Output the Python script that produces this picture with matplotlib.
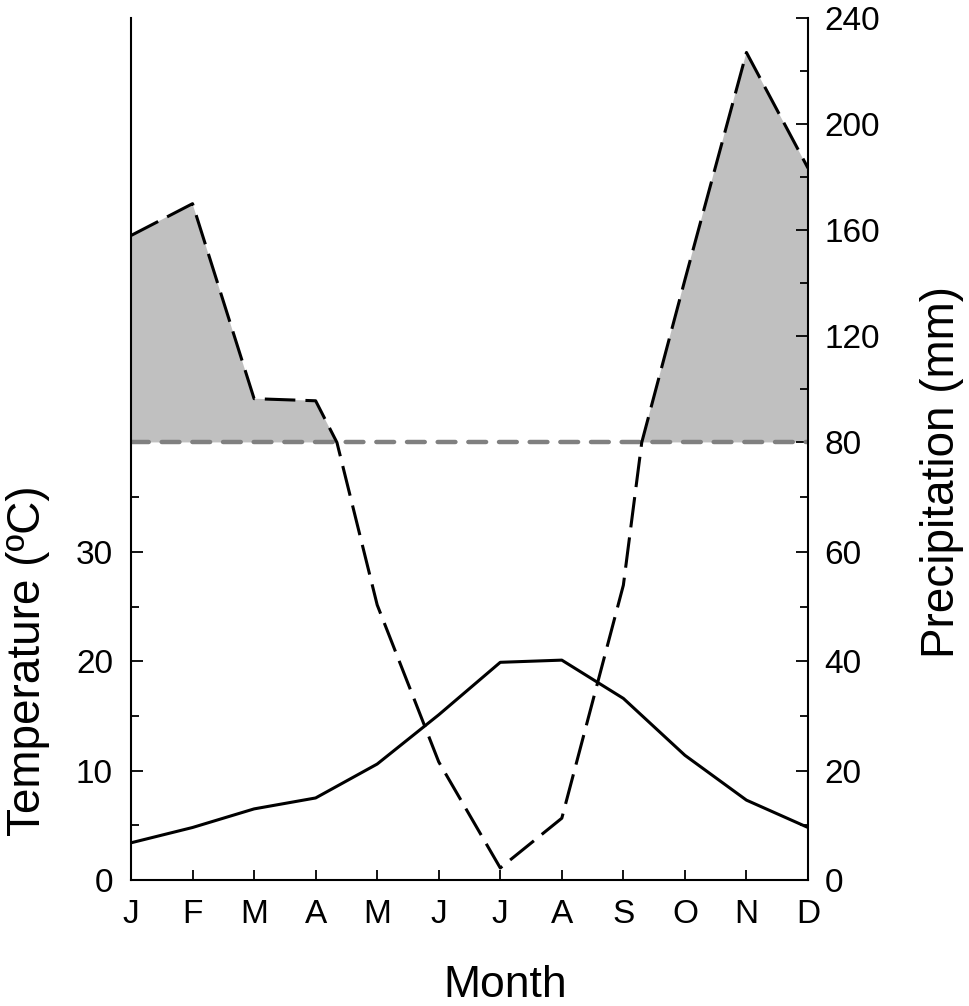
import numpy as np
import matplotlib
matplotlib.use("Agg")
import matplotlib.pyplot as plt

plt.rcParams['font.family'] = ['Liberation Sans', 'DejaVu Sans']

# data
months = ['J', 'F', 'M', 'A', 'M', 'J', 'J', 'A', 'S', 'O', 'N', 'D']
temperature = [3.4, 4.8, 6.5, 7.5, 10.6, 15.1, 19.9, 20.1, 16.6, 11.4, 7.3, 4.8]
precipitation = [158, 170, 96.5, 95.7, 50.3, 21.6, 2.2, 11.3, 53.9, 141.3, 227, 183.4]
threshold = 80
upper_factor = 0.485   # compression of the scale above 80 mm

prec_major = [0, 20, 40, 60, 80, 120, 160, 200, 240]
prec_minor = [10, 30, 50, 70, 100, 140, 180, 220]
temp_major = [0, 10, 20, 30]
temp_minor = [5, 15, 25, 35]


def fwd(p):
    p = np.asarray(p, dtype=float)
    return np.where(p <= threshold, p, threshold + (p - threshold) * upper_factor)


def inv(y):
    y = np.asarray(y, dtype=float)
    return np.where(y <= threshold, y, threshold + (y - threshold) / upper_factor)


# add the points where the precipitation line crosses the threshold,
# so the line bends there like in the original
x = np.arange(len(months), dtype=float)
p = np.array(precipitation, dtype=float)
xs, ps = [x[0]], [p[0]]
for i in range(1, len(p)):
    a, b = p[i - 1], p[i]
    if (a - threshold) * (b - threshold) < 0:
        f = (threshold - a) / (b - a)
        xs.append(x[i - 1] + f)
        ps.append(threshold)
    xs.append(x[i])
    ps.append(b)
xs = np.array(xs)
ps = np.array(ps)

fig = plt.figure(figsize=(9.70, 10.06), dpi=100)
ax = fig.add_axes([131 / 970, 1 - 880 / 1006, 677 / 970, 862 / 1006])
ax2 = ax.twinx()

ax2.set_yscale('function', functions=(fwd, inv))
ax2.set_ylim(0, 240)
# 10 degC on the left matches 20 mm on the right
ax.set_ylim(0, float(fwd(240)) / 2)
ax.set_xlim(0, 11)

# humid period above 80 mm
ax2.fill_between(xs, threshold, ps, where=ps >= threshold, interpolate=True,
                 facecolor='#c0c0c0', edgecolor='none', zorder=1)
ax2.axhline(threshold, color='#808080', lw=3.2, dashes=(4.0, 2.9),
            dash_capstyle='round', zorder=2)
ax2.plot(xs, ps, color='black', lw=2.2, dashes=(10, 3.3), zorder=3)
ax.plot(x, temperature, color='black', lw=2.2, zorder=3)

ax.set_zorder(ax2.get_zorder() + 1)
ax.patch.set_visible(False)

for a in (ax, ax2):
    a.spines['top'].set_visible(False)
    for s in a.spines.values():
        s.set_linewidth(1.5)
ax.spines['right'].set_visible(False)
ax2.spines['left'].set_visible(False)
ax2.spines['bottom'].set_visible(False)

ax.set_xticks(x)
ax.set_xticklabels(months)
ax.set_yticks(temp_major)
ax.set_yticklabels([str(t) for t in temp_major])
ax.set_yticks(temp_minor, minor=True)
ax.tick_params(axis='x', direction='in', length=7, width=1.3, pad=14,
               labelsize=24)
ax.tick_params(axis='y', which='major', direction='in', length=8.5, width=1.3,
               pad=13, labelsize=24)
ax.tick_params(axis='y', which='minor', direction='in', length=5.5, width=1.3)

ax2.set_yticks(prec_major)
ax2.set_yticklabels([str(v) for v in prec_major])
ax2.set_yticks(prec_minor, minor=True)
ax2.yaxis.set_minor_formatter(matplotlib.ticker.NullFormatter())
ax2.tick_params(axis='y', which='major', direction='in', length=8.5, width=1.3,
                pad=12, labelsize=24)
ax2.tick_params(axis='y', which='minor', direction='in', length=5.5, width=1.3)

fig.text(28 / 970, 1 - 661 / 1006, 'Temperature (ºC)', rotation=90,
         ha='center', va='center', fontsize=33)
fig.text(942 / 970, 1 - 472 / 1006, 'Precipitation (mm)', rotation=90,
         ha='center', va='center', fontsize=33)
fig.text(505 / 970, 1 - 997 / 1006, 'Month', ha='center', va='baseline',
         fontsize=32)

fig.savefig('out.png', dpi=100, facecolor='white')
